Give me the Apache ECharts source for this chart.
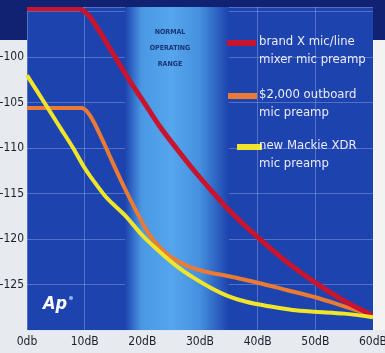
<!DOCTYPE html>
<html>
<head>
<meta charset="utf-8">
<style>
  html, body { margin: 0; padding: 0; background: #e7ebef; }
  #chart { width: 385px; height: 353px; }
</style>
<script src="https://cdn.jsdelivr.net/npm/echarts@6/dist/echarts.min.js"></script>
</head>
<body>
<div id="chart"></div>
<script>
// noise floor curves, x = gain (dB), y = output noise (dBu)
var brandX = [[0, -94.7], [5, -94.7], [9, -94.7], [10.5, -95.3], [12, -96.6], [15, -99.7], [18, -102.8], [20, -104.7], [23, -107.6], [26, -110.1], [29, -112.5], [32, -114.7], [35, -116.8], [40, -119.8], [45, -122.5], [50, -124.8], [55, -126.8], [60, -128.4]];
var outboard = [[0, -105.6], [5, -105.6], [9.5, -105.6], [11, -106.5], [13, -109], [15, -111.8], [17, -114.5], [19, -117], [21, -119.3], [23, -120.9], [25, -122], [28, -123], [31, -123.6], [35, -124.1], [40, -124.8], [45, -125.6], [50, -126.4], [55, -127.4], [60, -128.4]];
var mackie = [[0, -102], [2, -104], [4, -106], [6, -108], [8, -110], [10, -112.2], [12, -114], [14, -115.6], [17, -117.4], [20, -119.6], [23, -121.4], [26, -123], [29, -124.3], [32, -125.4], [35, -126.3], [38, -126.9], [42, -127.4], [46, -127.8], [50, -128], [55, -128.2], [60, -128.6]];
var xLabels = {0: "0db", 10: "10dB", 20: "20dB", 30: "30dB", 40: "40dB", 50: "50dB", 60: "60dB"};
var yLabels = [-100, -105, -110, -115, -120, -125];
var bandRange = [17, 35];

var legendNames = [
    ["brand X mic/line", "mixer mic preamp"],
    ["$2,000 outboard", "mic preamp"],
    ["new Mackie XDR", "mic preamp"]
];
var colors = ["#c8142e", "#ea7a34", "#f1e52a"];

var fontCond = '"Liberation Sans Narrow", "DejaVu Sans Condensed", "Liberation Sans", sans-serif';

var myChart = echarts.init(document.getElementById("chart"));

var legendGraphics = [];
var swatchY = [40, 93, 144];
var swatchX = [227, 228, 237];
var swatchW = [29, 29, 25];
for (var i = 0; i < 3; i++) {
    legendGraphics.push({
        type: "rect",
        shape: { x: swatchX[i], y: swatchY[i], width: swatchW[i], height: 6 },
        style: { fill: colors[i] },
        z: 100
    });
    legendGraphics.push({
        type: "text",
        x: 259,
        y: swatchY[i] - 7,
        style: {
            text: legendNames[i].join("\n"),
            fill: "#eceaf8",
            font: "13px " + fontCond,
            lineHeight: 18
        },
        z: 100
    });
}

option = {
    backgroundColor: "#e7ebef",
    animation: false,
    grid: {
        left: 27,
        right: 12,
        top: 7,
        bottom: 23,
        outerBoundsMode: "none",
        containLabel: false,
        show: true,
        backgroundColor: "#1d44ae",
        borderWidth: 0
    },
    xAxis: {
        type: "value",
        min: 0,
        max: 60,
        interval: 10,
        axisLine: { show: false },
        axisTick: { show: false },
        axisLabel: {
            color: "#1c1e2a",
            fontFamily: fontCond,
            fontSize: 12,
            margin: 6,
            formatter: function(v) { return xLabels[v] || ""; }
        },
        splitLine: { lineStyle: { color: "rgba(200,220,255,0.3)", width: 1 } }
    },
    yAxis: {
        type: "value",
        min: -130,
        max: -94.5,
        interval: 5,
        axisLine: { show: false },
        axisTick: { show: false },
        axisLabel: {
            color: "#1c1e2a",
            fontFamily: fontCond,
            fontSize: 12,
            margin: 3,
            formatter: function(v) { return yLabels.indexOf(v) > -1 ? String(v) : ""; }
        },
        splitLine: { lineStyle: { color: "rgba(200,220,255,0.3)", width: 1 } }
    },
    series: [{
            name: "band",
            type: "line",
            data: [],
            markArea: {
                silent: true,
                itemStyle: {
                    color: new echarts.graphic.LinearGradient(0, 0, 1, 0, [
                        { offset: 0, color: "#1d44ae" },
                        { offset: 0.16, color: "#4a98e4" },
                        { offset: 0.45, color: "#55a6ec" },
                        { offset: 0.72, color: "#4590de" },
                        { offset: 1, color: "#1d44ae" }
                    ])
                },
                data: [[{ xAxis: bandRange[0] }, { xAxis: bandRange[1] }]]
            }
        },
        {
            name: legendNames[0].join(" "),
            type: "line",
            data: brandX,
            smooth: 0.3,
            showSymbol: false,
            lineStyle: { color: colors[0], width: 5 },
            z: 5
        },
        {
            name: legendNames[1].join(" "),
            type: "line",
            data: outboard,
            smooth: 0.3,
            showSymbol: false,
            lineStyle: { color: colors[1], width: 4 },
            z: 4
        },
        {
            name: legendNames[2].join(" "),
            type: "line",
            data: mackie,
            smooth: 0.3,
            showSymbol: false,
            lineStyle: { color: colors[2], width: 4 },
            z: 6
        }
    ],
    graphic: [
        { type: "rect", shape: { x: 0, y: 0, width: 385, height: 7 }, style: { fill: "#122272" }, z: 90 },
        { type: "rect", shape: { x: 0, y: 0, width: 27, height: 40 }, style: { fill: "#122272" }, z: 90 },
        { type: "rect", shape: { x: 373, y: 0, width: 12, height: 40 }, style: { fill: "#122272" }, z: 90 },
        { type: "rect", shape: { x: 373, y: 40, width: 12, height: 290 }, style: { fill: "#f3f3f3" }, z: 90 },
        {
            type: "text",
            x: 170,
            y: 24,
            style: {
                text: "NORMAL\nOPERATING\nRANGE",
                fill: "#1b3274",
                font: "bold 7px " + fontCond,
                align: "center",
                lineHeight: 16
            },
            z: 100
        },
        {
            type: "text",
            x: 43,
            y: 295,
            style: { text: "Ap", fill: "#ffffff", font: "italic bold 18px " + fontCond },
            z: 100
        },
        { type: "circle", shape: { cx: 71, cy: 298, r: 2 }, style: { fill: "#8fb4f0" }, z: 100 }
    ].concat(legendGraphics)
};
myChart.setOption(option);
</script>
</body>
</html>
